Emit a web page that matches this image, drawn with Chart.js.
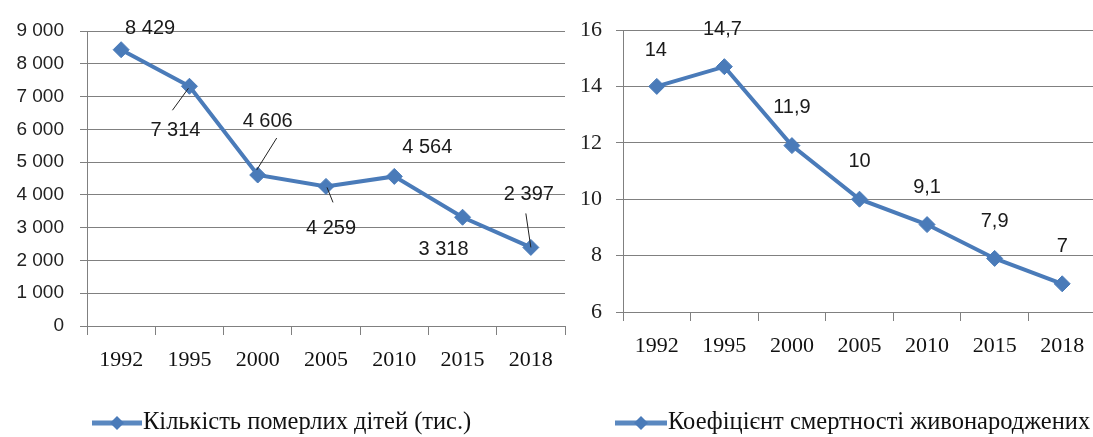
<!DOCTYPE html>
<html>
<head>
<meta charset="utf-8">
<script src="https://cdn.jsdelivr.net/npm/chart.js@4.4.1/dist/chart.umd.min.js"></script>
<style>
html, body { margin: 0; padding: 0; background: #fff; overflow: hidden; width: 1093px; height: 437px; }
#deaths { position: absolute; left: 0; top: 0; }
#rate { position: absolute; left: 540px; top: 0; }
</style>
</head>
<body>
<canvas id="deaths" width="575" height="437"></canvas>
<canvas id="rate" width="565" height="437"></canvas>
<script>
const years = ['1992', '1995', '2000', '2005', '2010', '2015', '2018'];
const deaths = [8429, 7314, 4606, 4259, 4564, 3318, 2397];
const rate = [14, 14.7, 11.9, 10, 9.1, 7.9, 7];
const deathsLabel = 'Кількість померлих дітей (тис.)';
const rateLabel = 'Коефіцієнт смертності живонароджених';

const lineColor = '#4a7bb9';
const gridColor = '#808080';

// label placement relative to each point (dx, dy) and optional leader lines
const deathsOffsets = [[29, -21], [-14, 44], [10, -54], [5, 42], [33, -29], [-19, 32], [-2, -53]];
const deathsLeaders = [null, [-17, 24, -1, 2], [19, -37, -1, -5], [7, 16, 1, 1], null, null, [-5, -34, 0, 0]];
const rateOffsets = [[-1, -36], [-2, -37], [0, -38], [0, -38], [0, -37], [0, -37], [0, -37]];

const fmtThousands = v => String(v).replace(/\B(?=(\d{3})+(?!\d))/g, ' ');
const fmtComma = v => String(v).replace('.', ',');

function makeLabels(format, offsets, leaders) {
    return {
        id: 'pointLabels',
        afterDatasetsDraw(chart) {
            const ctx = chart.ctx;
            const meta = chart.getDatasetMeta(0);
            const values = chart.data.datasets[0].data;
            ctx.save();
            ctx.font = '20px "Liberation Sans"';
            ctx.fillStyle = '#1a1a1a';
            ctx.textAlign = 'center';
            ctx.textBaseline = 'middle';
            meta.data.forEach((pt, i) => {
                ctx.fillText(format(values[i]), pt.x + offsets[i][0], pt.y + offsets[i][1]);
                const lead = leaders && leaders[i];
                if (lead) {
                    ctx.strokeStyle = '#222';
                    ctx.lineWidth = 1;
                    ctx.beginPath();
                    ctx.moveTo(pt.x + lead[0], pt.y + lead[1]);
                    ctx.lineTo(pt.x + lead[2], pt.y + lead[3]);
                    ctx.stroke();
                }
            });
            ctx.restore();
        }
    };
}

function makeLegend(text, x, y, width) {
    return {
        id: 'lineLegend',
        afterDraw(chart) {
            const ctx = chart.ctx;
            ctx.save();
            ctx.strokeStyle = '#5a88c0';
            ctx.lineWidth = 5;
            ctx.beginPath();
            ctx.moveTo(x, y);
            ctx.lineTo(x + width, y);
            ctx.stroke();
            const cx = x + width / 2, r = 7;
            ctx.fillStyle = lineColor;
            ctx.beginPath();
            ctx.moveTo(cx, y - r);
            ctx.lineTo(cx + r, y);
            ctx.lineTo(cx, y + r);
            ctx.lineTo(cx - r, y);
            ctx.closePath();
            ctx.fill();
            ctx.fillStyle = '#111';
            ctx.font = '24.5px "Liberation Serif"';
            ctx.textBaseline = 'middle';
            ctx.fillText(text, x + width + 1, y);
            ctx.restore();
        }
    };
}

function buildChart(canvas, values, label, yOpts, xHeight, yWidth, padding, plugins) {
    return new Chart(canvas, {
        type: 'line',
        data: {
            labels: years,
            datasets: [{
                label: label,
                data: values,
                borderColor: lineColor,
                backgroundColor: lineColor,
                borderWidth: 4,
                tension: 0,
                pointStyle: 'rectRot',
                pointRadius: 8,
                pointBorderWidth: 1
            }]
        },
        options: {
            responsive: false,
            animation: false,
            layout: { padding: padding },
            plugins: { legend: { display: false }, tooltip: { enabled: false } },
            scales: {
                x: {
                    offset: true,
                    grid: { offset: true, drawOnChartArea: false, tickLength: 9, color: gridColor },
                    border: { color: gridColor },
                    ticks: { padding: 12, color: '#111', font: { family: 'Liberation Serif', size: 22 } },
                    afterFit(s) { s.height = xHeight; }
                },
                y: Object.assign({
                    grid: { color: gridColor, tickLength: 7 },
                    border: { color: gridColor },
                    afterFit(s) { s.width = yWidth; }
                }, yOpts)
            }
        },
        plugins: plugins
    });
}

buildChart(document.getElementById('deaths'), deaths, deathsLabel, {
    min: 0, max: 9000,
    ticks: { stepSize: 1000, padding: 16, color: '#222', font: { family: 'Liberation Sans', size: 19 }, callback: v => fmtThousands(v) }
}, 111, 87, { top: 31, right: 10, left: 0, bottom: 0 },
[makeLabels(fmtThousands, deathsOffsets, deathsLeaders), makeLegend(deathsLabel, 92, 423, 50)]);

buildChart(document.getElementById('rate'), rate, rateLabel, {
    min: 6, max: 16,
    ticks: { stepSize: 2, padding: 14, color: '#222', font: { family: 'Liberation Serif', size: 22 } }
}, 125, 83, { top: 30, right: 5, left: 0, bottom: 0 },
[makeLabels(fmtComma, rateOffsets, null), makeLegend(rateLabel, 75, 423, 52)]);
</script>
</body>
</html>
